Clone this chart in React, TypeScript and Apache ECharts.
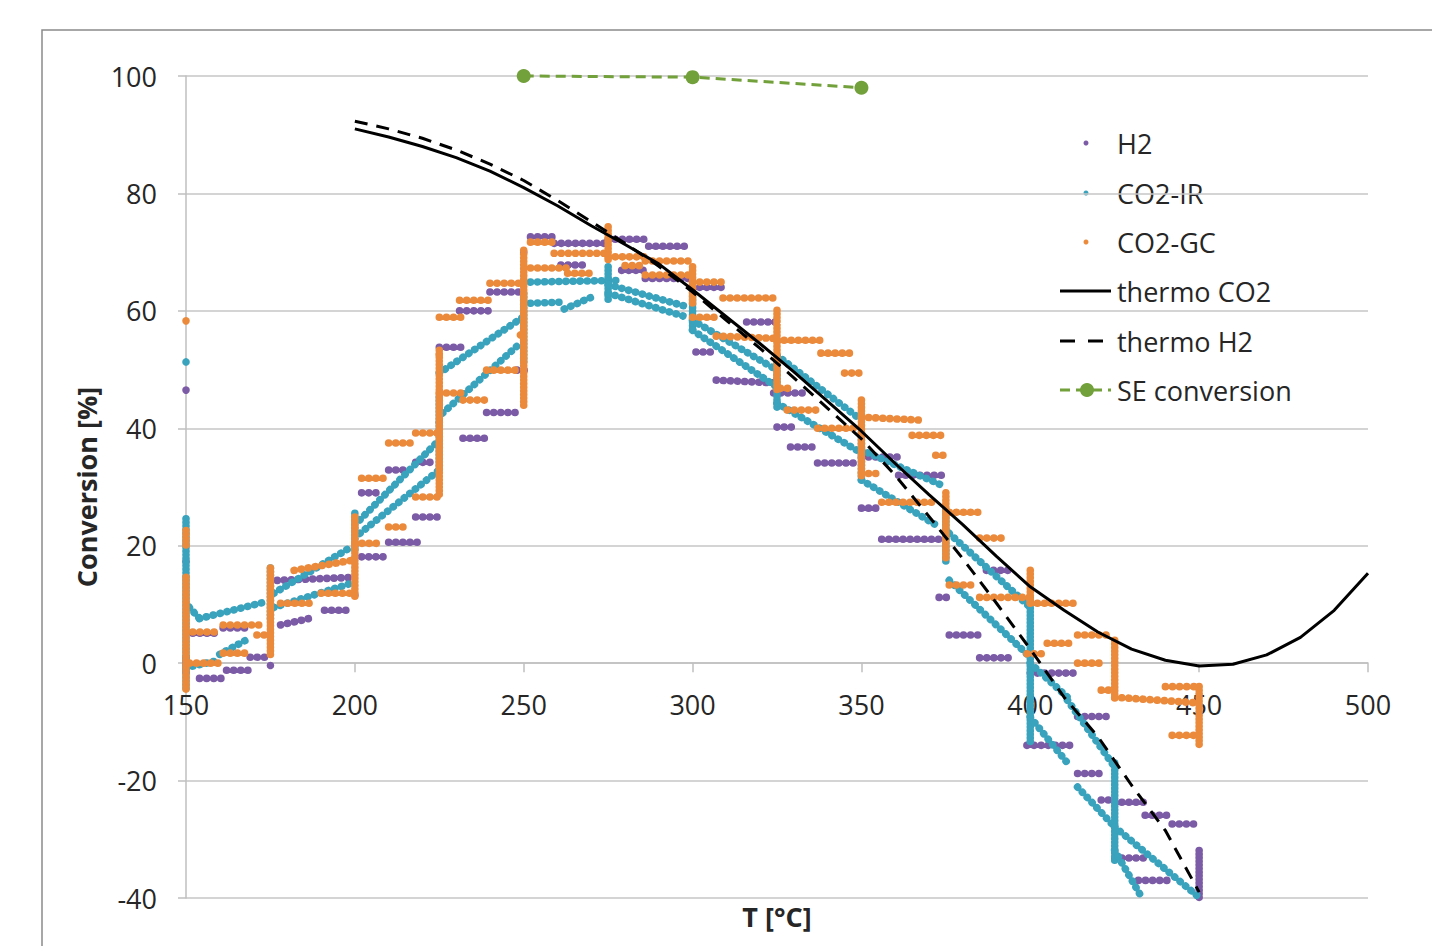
import React, { useEffect, useRef } from 'react';
import * as echarts from 'echarts';

// ---- thermodynamic equilibrium curves ----
const thermoT = [200, 210, 220, 230, 240, 250, 260, 270, 280, 290, 300, 310, 320, 330, 340, 350, 360, 370, 380, 390, 400, 410, 420, 430, 440, 450, 460, 470, 480, 490, 500];
const thermoCO2 = [91.0, 89.6, 88.0, 86.1, 83.8, 81.0, 77.9, 74.5, 71.3, 68.0, 63.6, 59.0, 54.4, 49.6, 44.6, 39.5, 34.0, 28.7, 23.6, 18.2, 13.0, 9.0, 5.3, 2.4, 0.5, -0.5, -0.2, 1.4, 4.4, 9.0, 15.3];
const thermoH2T = [200, 210, 220, 230, 240, 250, 260, 270, 280, 290, 300, 310, 320, 330, 340, 350, 360, 370, 380, 390, 400, 410, 420, 430, 440, 450];
const thermoH2 = [92.3, 91.0, 89.4, 87.4, 85.0, 82.2, 78.8, 75.2, 71.5, 67.6, 63.2, 58.4, 53.6, 48.6, 43.4, 38.2, 32.0, 25.0, 17.8, 10.2, 2.4, -5.8, -12.5, -20.8, -28.5, -39.0];

// ---- SE conversion ----
const seT = [250, 300, 350];
const seConv = [100.0, 99.8, 98.0];

// ---- measured runs: [T1, conv1, T2, conv2] (runs of dots) ----
const h2Runs: number[][] = [
  [150, 46.5, 150, 46.5], [150, 17.3, 150, 17.3], [150, 1, 150, -2],
  [154, -2.6, 162, -2.6], [162, -1.2, 169, -1.2], [169, 1.0, 175, 1.0],
  [152, 5.1, 160, 5.1], [161, 6.0, 169, 6.0], [175, -0.4, 175, -0.4],
  [178, 6.5, 188, 7.8], [191, 9.0, 198, 9.0], [177, 14.1, 199, 14.6], [200, 11.6, 200, 11.6],
  [202, 18.1, 209, 18.1], [210, 20.6, 219, 20.6], [218, 24.9, 225, 24.9],
  [202, 29.0, 207, 29.0], [210, 32.9, 215, 32.9], [218, 34.2, 224, 34.2],
  [225, 53.8, 232, 53.8], [231, 60.0, 240, 60.0], [240, 63.2, 250, 63.2],
  [225, 41.0, 225, 41.0], [232, 38.3, 240, 38.3], [239, 42.7, 248, 42.7], [248, 49.9, 251, 49.9],
  [250, 70.0, 250, 70.0], [252, 72.6, 259, 72.6], [259, 71.5, 275, 71.5], [261, 67.8, 268, 67.8],
  [275, 72.2, 287, 72.2], [287, 71.0, 299, 71.0], [279, 66.9, 287, 66.9], [286, 65.5, 299, 65.5],
  [300, 64.0, 309, 64.0], [316, 58.1, 325, 58.1], [301, 53.0, 307, 53.0], [307, 48.2, 325, 47.7],
  [324, 46.0, 333, 46.0], [325, 40.2, 331, 40.2], [329, 36.8, 337, 36.8], [337, 34.1, 349, 34.1],
  [350, 35.1, 362, 35.1], [361, 32.0, 374, 32.0], [350, 26.4, 356, 26.4], [356, 21.1, 373, 21.1],
  [373, 11.2, 376, 11.2], [376, 4.8, 385, 4.8], [385, 0.9, 395, 0.9], [387, 15.8, 394, 15.8],
  [400, -1.7, 413, -1.7], [414, -9.1, 423, -9.1], [399, -14.0, 412, -14.0], [414, -18.8, 421, -18.8], [421, -23.3, 425, -23.3],
  [425, -23.7, 434, -23.7], [434, -25.9, 442, -25.9], [442, -27.4, 450, -27.4],
  [425, -33.2, 434, -33.2], [432, -37.0, 442, -37.0], [450, -31.9, 450, -39.9],
];

const co2IrRuns: number[][] = [
  [150, 51.3, 150, 51.3], [150, 24.6, 150, -4.6],
  [151, 9.5, 154, 7.6], [154, 7.6, 174, 10.5], [152, -0.5, 160, 0.5], [160, 1.5, 168, 4.0],
  [175, 16.2, 175, 7.3],
  [176, 11.9, 199, 19.8], [176, 9.5, 199, 13.6], [200, 25.5, 200, 19.0],
  [201.5, 24.4, 225, 38.0], [201.5, 22.1, 225, 32.9], [225, 45.3, 225, 32.9],
  [225, 49.4, 250, 59.0], [226, 42.6, 249, 54.5], [250, 63.0, 250, 51.0],
  [252, 64.9, 279, 65.2], [252, 61.3, 262, 61.5], [262, 60.3, 270, 62.3], [275, 67.5, 275, 61.8],
  [275, 64.5, 299, 60.6], [275, 63.0, 299, 58.8], [300, 63.0, 300, 56.4],
  [300, 58.4, 325, 49.9], [300, 56.7, 325, 47.0], [325, 51.6, 325, 43.6],
  [325, 52.4, 350, 41.4], [325, 44.3, 350, 35.8], [350, 39.2, 350, 31.2],
  [350, 36.3, 375, 30.0], [350, 31.2, 373, 23.2], [375, 26.0, 375, 17.0],
  [376, 22.1, 400, 9.5], [376, 14.1, 400, 1.0], [400, 11.2, 400, -13.6],
  [400, 0, 411, -5.8], [411, -6.3, 425, -17.7], [400, -9.2, 411, -17.0], [414, -21.1, 425, -27.9],
  [425, -17.0, 425, -33.6],
  [425, -27.9, 450, -39.9], [425, -31.9, 433, -39.9],
];

const co2GcRuns: number[][] = [
  [150, 58.3, 150, 58.3], [150, 22.6, 150, 20.0], [150, 14.6, 150, -4.6],
  [152, 5.3, 160, 5.3], [161, 6.5, 173, 6.5], [151, 0, 161, 0], [161, 1.7, 169, 1.7], [171, 4.8, 175, 4.8],
  [175, 16.2, 175, 1.0],
  [182, 15.8, 199, 17.5], [178, 10.2, 188, 10.2], [190, 11.9, 199, 11.9], [200, 24.9, 200, 11.2],
  [200, 20.4, 208, 20.4], [202, 31.5, 209, 31.5], [210, 23.2, 215, 23.2], [210, 37.5, 218, 37.5],
  [218, 28.3, 225, 28.3], [218, 39.2, 225, 39.2], [225, 53.3, 225, 28.3],
  [225, 58.9, 232, 58.9], [231, 61.8, 240, 61.8], [240, 64.7, 250, 64.7],
  [225, 46.0, 232, 46.0], [232, 44.8, 239, 44.8], [239, 49.9, 249, 49.9], [249, 55.9, 249, 55.9],
  [225, 52.5, 225, 52.5], [250, 70.3, 250, 43.6],
  [252, 71.7, 259, 71.7], [259, 69.8, 275, 69.8], [252, 67.3, 263, 67.3], [263, 66.4, 270, 66.4],
  [275, 74.3, 275, 68.3],
  [275, 69.2, 286, 69.2], [286, 68.5, 299, 68.5], [280, 67.7, 286, 67.7], [286, 66.1, 299, 66.1],
  [300, 67.5, 300, 61.0],
  [300, 64.9, 309, 64.9], [309, 62.2, 325, 62.2], [300, 58.9, 308, 58.9], [307, 55.7, 325, 55.3],
  [325, 60.1, 325, 46.0],
  [325, 55.0, 338, 55.0], [338, 52.8, 347, 52.8], [345, 49.4, 350, 49.4], [326, 46.8, 329, 46.8],
  [328, 43.1, 338, 43.1], [337, 40.0, 349, 40.0], [350, 44.8, 350, 31.7],
  [350, 41.9, 367, 41.4], [365, 38.8, 374, 38.8], [372, 35.4, 375, 35.4], [350, 32.3, 356, 32.3],
  [356, 27.4, 371, 27.4], [375, 29.0, 375, 17.5],
  [376, 25.7, 385, 25.7], [385, 21.3, 393, 21.3], [376, 13.3, 384, 13.3], [385, 11.2, 400, 11.2],
  [400, 15.8, 400, 10.2],
  [400, 10.2, 413, 10.2], [399, 1.6, 404, 1.6], [405, 3.4, 413, 3.4], [414, 4.8, 424, 4.8],
  [414, 0.0, 421, 0.0], [421, -4.6, 425, -4.6], [425, 3.9, 425, -6.3],
  [425, -5.8, 450, -6.8], [440, -4.0, 450, -4.0], [442, -12.3, 450, -12.3], [450, -4.0, 450, -14.3],
];

const PURPLE = '#7b5aa6';
const TEAL = '#39a2bc';
const ORANGE = '#ec8a3c';
const GREEN = '#72a03a';
const FONT = 'Open Sans';

function dotted(color: string) {
  return (_params: any, api: any) => {
    const p1 = api.coord([api.value(0), api.value(1)]);
    const p2 = api.coord([api.value(2), api.value(3)]);
    const dx = p2[0] - p1[0];
    const dy = p2[1] - p1[1];
    const len = Math.hypot(dx, dy);
    if (len < 1) {
      return { type: 'circle', shape: { cx: p1[0], cy: p1[1], r: 3.8 }, style: { fill: color } };
    }
    const vertical = Math.abs(dx) < 1;
    return {
      type: 'line',
      shape: { x1: p1[0], y1: p1[1], x2: p2[0], y2: p2[1] },
      style: {
        stroke: color,
        fill: 'none',
        lineWidth: 7.6,
        lineCap: 'round',
        lineDash: vertical ? [0.1, 3.5] : [0.1, 7],
      },
    };
  };
}

function runSeries(name: string, runs: number[][], color: string) {
  return {
    name,
    type: 'custom',
    renderItem: dotted(color),
    data: runs,
    encode: { x: [0, 2], y: [1, 3] },
    dimensions: ['t1', 'c1', 't2', 'c2'],
  };
}

const legendText = (text: string, y: number) => ({
  type: 'text',
  x: 1117,
  y,
  style: { text, fontSize: 27, fontFamily: FONT, fill: '#262626', verticalAlign: 'middle', align: 'left' },
});

export default function App() {
  const ref = useRef<HTMLDivElement>(null);

  useEffect(() => {
    if (!ref.current) return;
    const chart = echarts.init(ref.current, undefined, { renderer: 'svg' });
    const axisColor = '#bfbfbf';
    chart.setOption({
      animation: false,
      backgroundColor: '#ffffff',
      grid: { left: 186, right: 64, top: 76, bottom: 48, containLabel: false, outerBoundsMode: 'none' },
      xAxis: {
        type: 'value',
        min: 150,
        max: 500,
        interval: 50,
        axisLine: { show: true, onZero: true, lineStyle: { color: axisColor, width: 1.5 } },
        axisTick: { show: true, length: 9, lineStyle: { color: axisColor, width: 1.5 } },
        // labels sit just below the zero line (the axis line crosses at 0)
        axisLabel: { margin: -207, fontSize: 27, fontFamily: FONT, color: '#262626' },
        splitLine: { show: false },
        name: 'T [°C]',
        nameLocation: 'middle',
        nameGap: 5,
        nameTextStyle: { fontSize: 27, fontWeight: 'bold', fontFamily: FONT, color: '#262626' },
      },
      yAxis: {
        type: 'value',
        min: -40,
        max: 100,
        interval: 20,
        axisLine: { show: true, onZero: false, lineStyle: { color: axisColor, width: 1.5 } },
        axisTick: { show: true, length: 8, lineStyle: { color: axisColor, width: 1.5 } },
        axisLabel: { margin: 29, fontSize: 27, fontFamily: FONT, color: '#262626' },
        splitLine: { show: true, lineStyle: { color: '#c6c6c6', width: 1.5 } },
        name: 'Conversion [%]',
        nameLocation: 'middle',
        nameGap: 83,
        nameTextStyle: { fontSize: 27, fontWeight: 'bold', fontFamily: FONT, color: '#262626' },
      },
      series: [
        runSeries('H2', h2Runs, PURPLE),
        runSeries('CO2-IR', co2IrRuns, TEAL),
        runSeries('CO2-GC', co2GcRuns, ORANGE),
        {
          name: 'thermo CO2',
          type: 'line',
          data: thermoT.map((t, i) => [t, thermoCO2[i]]),
          showSymbol: false,
          symbol: 'none',
          lineStyle: { color: '#000', width: 3 },
        },
        {
          name: 'thermo H2',
          type: 'line',
          data: thermoH2T.map((t, i) => [t, thermoH2[i]]),
          showSymbol: false,
          symbol: 'none',
          lineStyle: { color: '#000', width: 3, type: [13, 9] },
        },
        {
          name: 'SE conversion',
          type: 'line',
          clip: false,
          data: seT.map((t, i) => [t, seConv[i]]),
          symbol: 'circle',
          symbolSize: 14,
          itemStyle: { color: GREEN },
          lineStyle: { color: GREEN, width: 3, type: [10, 6] },
        },
      ],
      graphic: [
        {
          type: 'rect',
          silent: true,
          z: -10,
          shape: { x: 42, y: 30, width: 1420, height: 960 },
          style: { fill: 'none', stroke: '#8a8a8a', lineWidth: 1.5 },
        },
        { type: 'circle', shape: { cx: 1086, cy: 143, r: 2.5 }, style: { fill: PURPLE } },
        legendText('H2', 143),
        { type: 'circle', shape: { cx: 1086, cy: 193, r: 2.5 }, style: { fill: TEAL } },
        legendText('CO2-IR', 193),
        { type: 'circle', shape: { cx: 1086, cy: 242, r: 2.5 }, style: { fill: ORANGE } },
        legendText('CO2-GC', 242),
        { type: 'line', shape: { x1: 1060, y1: 291, x2: 1111, y2: 291 }, style: { stroke: '#000', lineWidth: 3 } },
        legendText('thermo CO2', 291),
        { type: 'line', shape: { x1: 1060, y1: 341, x2: 1103, y2: 341 }, style: { stroke: '#000', lineWidth: 3, lineDash: [15, 13] } },
        legendText('thermo H2', 341),
        { type: 'line', shape: { x1: 1060, y1: 390, x2: 1111, y2: 390 }, style: { stroke: GREEN, lineWidth: 3, lineDash: [10, 6] } },
        { type: 'circle', shape: { cx: 1087, cy: 390, r: 7 }, style: { fill: GREEN } },
        legendText('SE conversion', 390),
      ],
    });
    return () => chart.dispose();
  }, []);

  return (
    <div
      ref={ref}
      style={{ position: 'fixed', left: 0, top: 0, width: 1432, height: 946, background: '#fff' }}
    />
  );
}
